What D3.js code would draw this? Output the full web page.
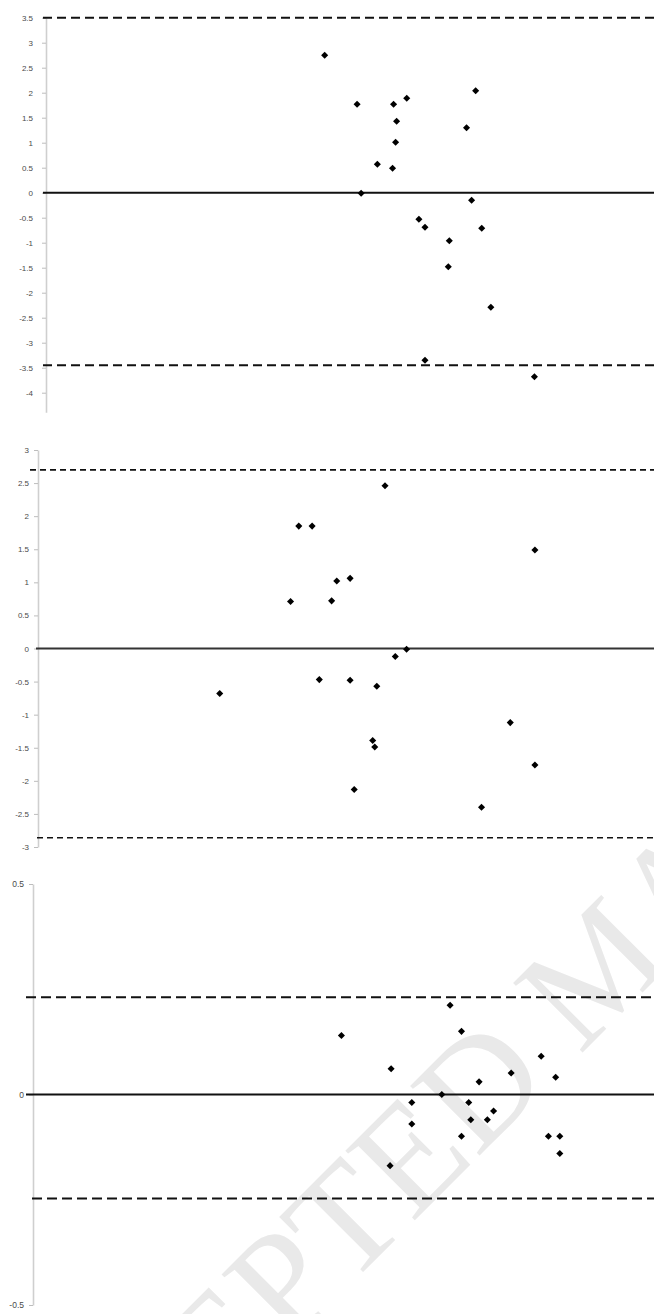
<!DOCTYPE html>
<html>
<head>
<meta charset="utf-8">
<script src="https://cdn.jsdelivr.net/npm/d3@7"></script>
<style>
  html, body { margin: 0; padding: 0; background: #fff; }
  svg { display: block; }
</style>
</head>
<body>
<script>
// Page size.
const width = 654;
const height = 1314;

// Panel 1 data (mean vs difference).
const p1Mean = [27.5, 30.7, 34.3, 35.6, 34.6, 34.5, 32.7, 34.2, 31.1, 42.4,
                41.5, 42.0, 36.8, 37.4, 43.0, 39.8, 39.7, 43.9, 37.4, 48.2];
const p1Diff = [2.75, 1.77, 1.77, 1.89, 1.43, 1.01, 0.57, 0.49, -0.01, 2.04,
                1.30, -0.15, -0.53, -0.69, -0.71, -0.96, -1.48, -2.29, -3.35, -3.68];
const p1Ticks = [3.5, 3, 2.5, 2, 1.5, 1, 0.5, 0, -0.5, -1, -1.5, -2, -2.5, -3, -3.5, -4];
const p1Limits = [3.5, -3.45];

// Panel 2 data.
const p2Mean = [33.8, 25.4, 26.7, 48.4, 30.4, 29.1, 24.6, 28.6, 35.9, 34.8,
                27.4, 30.4, 33.0, 17.7, 46.0, 32.6, 32.8, 48.4, 30.8, 43.2];
const p2Diff = [2.46, 1.85, 1.85, 1.49, 1.06, 1.02, 0.71, 0.72, -0.01, -0.12,
                -0.47, -0.48, -0.57, -0.68, -1.12, -1.39, -1.49, -1.76, -2.13, -2.40];
const p2Ticks = [3, 2.5, 2, 1.5, 1, 0.5, 0, -0.5, -1, -1.5, -2, -2.5, -3];
const p2Limits = [2.70, -2.86];

// Panel 3 data.
const p3Mean = [4.03, 2.98, 4.14, 4.91, 5.05, 4.62, 4.31, 3.46, 3.95, 3.66,
                4.21, 4.45, 4.23, 4.39, 3.66, 4.14, 4.98, 5.09, 5.09, 3.45];
const p3Diff = [0.212, 0.140, 0.150, 0.091, 0.041, 0.051, 0.030, 0.061, 0.000, -0.019,
                -0.019, -0.039, -0.060, -0.060, -0.070, -0.099, -0.099, -0.099, -0.140, -0.169];
const p3Ticks = [0.5, 0, -0.5];
const p3Limits = [0.231, -0.247];

// Layout of each panel.
const panels = [
  {
    mean: p1Mean, diff: p1Diff, ticks: p1Ticks, limits: p1Limits,
    xDomain: [0, 60], yDomain: [-4.39, 3.5],
    axisX: 46, top: 17.7, bottom: 412.2,
    labelGap: 9, fontSize: 8,
    zeroStart: 43, limitStart: [43, 43],
    dash: "9,5", dashWidth: 2, zeroColor: "#111"
  },
  {
    mean: p2Mean, diff: p2Diff, ticks: p2Ticks, limits: p2Limits,
    xDomain: [0, 60], yDomain: [-3, 3],
    axisX: 38, top: 450, bottom: 847,
    labelGap: 5, fontSize: 8,
    zeroStart: 36, limitStart: [30, 37],
    dash: "6,4", dashWidth: 1.6, zeroColor: "#333"
  },
  {
    mean: p3Mean, diff: p3Diff, ticks: p3Ticks, limits: p3Limits,
    xDomain: [0, 6], yDomain: [-0.5, 0.5],
    axisX: 33, top: 884, bottom: 1305,
    labelGap: 5, fontSize: 8.5,
    zeroStart: 26, limitStart: [26, 32],
    dash: "10,5", dashWidth: 2, zeroColor: "#111"
  }
];

const svg = d3.select("body")
  .append("svg")
  .attr("width", width)
  .attr("height", height)
  .attr("viewBox", [0, 0, width, height]);

// Faint watermark behind the last panel, clipped to the page like the scan.
svg.append("clipPath").attr("id", "page")
  .append("rect").attr("width", width).attr("height", height);

svg.append("g")
  .attr("clip-path", "url(#page)")
  .append("text")
  .attr("transform", "translate(5,1630) rotate(-45)")
  .attr("font-family", "Liberation Serif, DejaVu Serif, serif")
  .attr("font-size", 150)
  .attr("fill", "#e9e9e9")
  .text("ACCEPTED MANUSCRIPT");

const diamond = d3.symbol(d3.symbolSquare, 25);

panels.forEach((p) => {
  const x = d3.scaleLinear(p.xDomain, [p.axisX, width]);
  const y = d3.scaleLinear(p.yDomain, [p.bottom, p.top]);

  const g = svg.append("g");

  // Y axis.
  g.append("g")
    .attr("transform", `translate(${p.axisX},0)`)
    .call(d3.axisLeft(y)
      .tickValues(p.ticks)
      .tickSize(4)
      .tickSizeOuter(0)
      .tickPadding(p.labelGap)
      .tickFormat((d) => String(d)))
    .call((a) => a.select(".domain").attr("stroke", "#cfcfcf").attr("stroke-width", 1.6))
    .call((a) => a.selectAll(".tick line").attr("stroke", "#bdbdbd"))
    .call((a) => a.selectAll(".tick text")
      .attr("fill", "#4a4a4a")
      .attr("font-family", "Liberation Sans, Arial, sans-serif")
      .attr("font-size", p.fontSize));

  // Zero line.
  g.append("line")
    .attr("x1", p.zeroStart).attr("x2", width)
    .attr("y1", y(0)).attr("y2", y(0))
    .attr("stroke", p.zeroColor)
    .attr("stroke-width", 2);

  // Limits of agreement.
  p.limits.forEach((v, i) => {
    g.append("line")
      .attr("x1", p.limitStart[i]).attr("x2", width)
      .attr("y1", y(v)).attr("y2", y(v))
      .attr("stroke", "#111")
      .attr("stroke-width", p.dashWidth)
      .attr("stroke-dasharray", p.dash);
  });

  // Points.
  g.append("g")
    .selectAll("path")
    .data(p.mean.map((m, i) => [m, p.diff[i]]))
    .join("path")
    .attr("d", diamond)
    .attr("fill", "#000")
    .attr("transform", (d) => `translate(${x(d[0])},${y(d[1])}) rotate(45)`);
});
</script>
</body>
</html>
